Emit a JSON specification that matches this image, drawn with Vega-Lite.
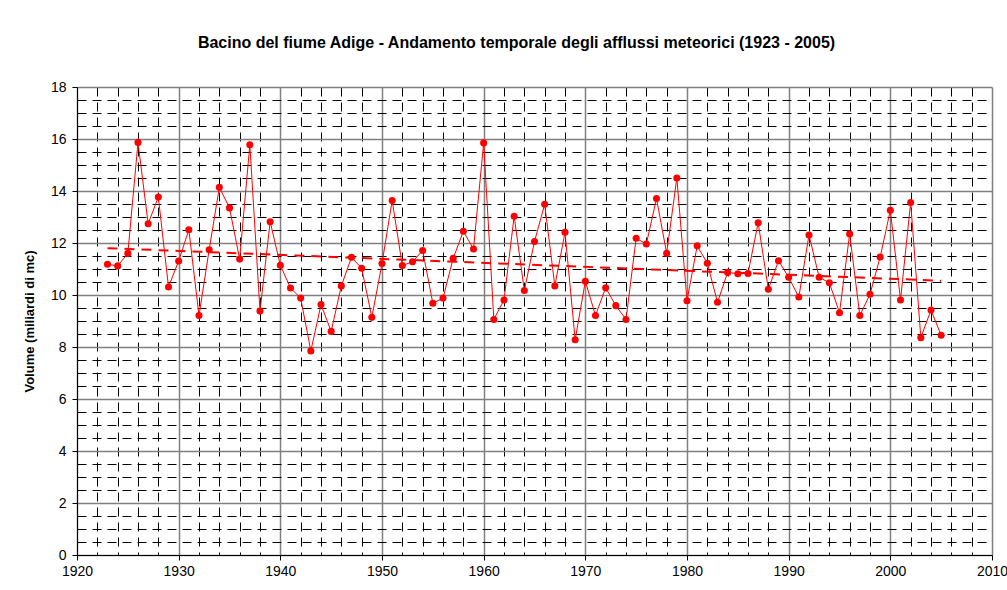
{
  "$schema": "https://vega.github.io/schema/vega-lite/v6.json",
  "width": 915,
  "height": 468,
  "autosize": {"type": "none"},
  "padding": {"left": 77, "top": 87, "right": 15, "bottom": 35},
  "background": "white",
  "title": {
    "text": "Bacino del fiume Adige - Andamento temporale degli afflussi meteorici (1923 - 2005)",
    "font": "Liberation Sans",
    "fontSize": 16,
    "fontWeight": "bold",
    "color": "black",
    "anchor": "middle",
    "dx": -18,
    "offset": 29
  },
  "config": {
    "view": {"stroke": null},
    "font": "Liberation Sans"
  },
  "data": {
    "values": [
      {"year": 1923, "value": 11.18},
      {"year": 1924, "value": 11.12},
      {"year": 1925, "value": 11.6},
      {"year": 1926, "value": 15.87},
      {"year": 1927, "value": 12.74},
      {"year": 1928, "value": 13.77},
      {"year": 1929, "value": 10.31},
      {"year": 1930, "value": 11.31},
      {"year": 1931, "value": 12.51},
      {"year": 1932, "value": 9.21},
      {"year": 1933, "value": 11.74},
      {"year": 1934, "value": 14.14},
      {"year": 1935, "value": 13.35},
      {"year": 1936, "value": 11.38},
      {"year": 1937, "value": 15.78},
      {"year": 1938, "value": 9.38},
      {"year": 1939, "value": 12.82},
      {"year": 1940, "value": 11.14},
      {"year": 1941, "value": 10.27},
      {"year": 1942, "value": 9.88},
      {"year": 1943, "value": 7.85},
      {"year": 1944, "value": 9.63},
      {"year": 1945, "value": 8.6},
      {"year": 1946, "value": 10.35},
      {"year": 1947, "value": 11.45},
      {"year": 1948, "value": 11.03},
      {"year": 1949, "value": 9.14},
      {"year": 1950, "value": 11.21},
      {"year": 1951, "value": 13.63},
      {"year": 1952, "value": 11.13},
      {"year": 1953, "value": 11.28},
      {"year": 1954, "value": 11.71},
      {"year": 1955, "value": 9.68},
      {"year": 1956, "value": 9.88},
      {"year": 1957, "value": 11.41},
      {"year": 1958, "value": 12.45},
      {"year": 1959, "value": 11.77},
      {"year": 1960, "value": 15.85},
      {"year": 1961, "value": 9.06},
      {"year": 1962, "value": 9.81},
      {"year": 1963, "value": 13.03},
      {"year": 1964, "value": 10.17},
      {"year": 1965, "value": 12.06},
      {"year": 1966, "value": 13.49},
      {"year": 1967, "value": 10.35},
      {"year": 1968, "value": 12.41},
      {"year": 1969, "value": 8.28},
      {"year": 1970, "value": 10.53},
      {"year": 1971, "value": 9.21},
      {"year": 1972, "value": 10.28},
      {"year": 1973, "value": 9.59},
      {"year": 1974, "value": 9.06},
      {"year": 1975, "value": 12.18},
      {"year": 1976, "value": 11.96},
      {"year": 1977, "value": 13.71},
      {"year": 1978, "value": 11.6},
      {"year": 1979, "value": 14.5},
      {"year": 1980, "value": 9.78},
      {"year": 1981, "value": 11.89},
      {"year": 1982, "value": 11.22},
      {"year": 1983, "value": 9.72},
      {"year": 1984, "value": 10.87},
      {"year": 1985, "value": 10.82},
      {"year": 1986, "value": 10.83},
      {"year": 1987, "value": 12.78},
      {"year": 1988, "value": 10.22},
      {"year": 1989, "value": 11.32},
      {"year": 1990, "value": 10.68},
      {"year": 1991, "value": 9.92},
      {"year": 1992, "value": 12.31},
      {"year": 1993, "value": 10.68},
      {"year": 1994, "value": 10.47},
      {"year": 1995, "value": 9.32},
      {"year": 1996, "value": 12.35},
      {"year": 1997, "value": 9.21},
      {"year": 1998, "value": 10.03},
      {"year": 1999, "value": 11.46},
      {"year": 2000, "value": 13.26},
      {"year": 2001, "value": 9.81},
      {"year": 2002, "value": 13.56},
      {"year": 2003, "value": 8.36},
      {"year": 2004, "value": 9.42},
      {"year": 2005, "value": 8.45}
    ]
  },
  "encoding": {
    "x": {
      "field": "year",
      "type": "quantitative",
      "scale": {"domain": [1920, 2010], "nice": false, "zero": false},
      "axis": {
        "title": null,
        "values": [1920,1922,1924,1926,1928,1930,1932,1934,1936,1938,1940,1942,1944,1946,1948,1950,1952,1954,1956,1958,1960,1962,1964,1966,1968,1970,1972,1974,1976,1978,1980,1982,1984,1986,1988,1990,1992,1994,1996,1998,2000,2002,2004,2006,2008,2010],
        "format": "d",
        "labelExpr": "datum.value % 10 === 0 ? datum.label : ''",
        "labelOverlap": false,
        "labelFlush": false,
        "labelFontSize": 14,
        "labelColor": "black",
        "labelPadding": 4,
        "domainColor": "black",
        "domainWidth": 1,
        "tickColor": "black",
        "tickSize": {"condition": {"test": "datum.value % 10 === 0", "value": 5}, "value": 0},
        "grid": true,
        "gridColor": {"condition": {"test": "datum.value % 10 === 0", "value": "#808080"}, "value": "#000000"},
        "gridWidth": {"condition": {"test": "datum.value % 10 === 0", "value": 1.5}, "value": 1},
        "gridDash": {"condition": {"test": "datum.value % 10 === 0", "value": []}, "value": [9, 6]},
        "gridOpacity": 1
      }
    },
    "y": {
      "field": "value",
      "type": "quantitative",
      "scale": {"domain": [0, 18], "nice": false},
      "axis": {
        "title": "Volume (miliardi di mc)",
        "titleFontSize": 13,
        "titleFontWeight": "bold",
        "titleColor": "black",
        "titlePadding": 14,
        "values": [0,0.5,1,1.5,2,2.5,3,3.5,4,4.5,5,5.5,6,6.5,7,7.5,8,8.5,9,9.5,10,10.5,11,11.5,12,12.5,13,13.5,14,14.5,15,15.5,16,16.5,17,17.5,18],
        "labelExpr": "datum.value % 2 === 0 ? format(datum.value, 'd') : ''",
        "labelOverlap": false,
        "labelFlush": false,
        "labelFontSize": 14,
        "labelColor": "black",
        "labelPadding": 6,
        "domainColor": "black",
        "domainWidth": 1,
        "tickColor": "black",
        "tickSize": {"condition": {"test": "datum.value % 2 === 0", "value": 5}, "value": 0},
        "grid": true,
        "gridColor": {"condition": {"test": "datum.value % 2 === 0", "value": "#808080"}, "value": "#000000"},
        "gridWidth": {"condition": {"test": "datum.value % 2 === 0", "value": 1.5}, "value": 1},
        "gridDash": {"condition": {"test": "datum.value % 2 === 0", "value": []}, "value": [9, 6]},
        "gridOpacity": 1
      }
    }
  },
  "layer": [
    {
      "transform": [{"regression": "value", "on": "year", "extent": [1923, 2005]}],
      "mark": {"type": "line", "color": "#FF0000", "strokeWidth": 2, "strokeDash": [10, 7]}
    },
    {
      "mark": {"type": "line", "color": "#FF0000", "strokeWidth": 1}
    },
    {
      "mark": {"type": "point", "filled": true, "color": "#FF0000", "size": 50, "opacity": 1}
    }
  ]
}
